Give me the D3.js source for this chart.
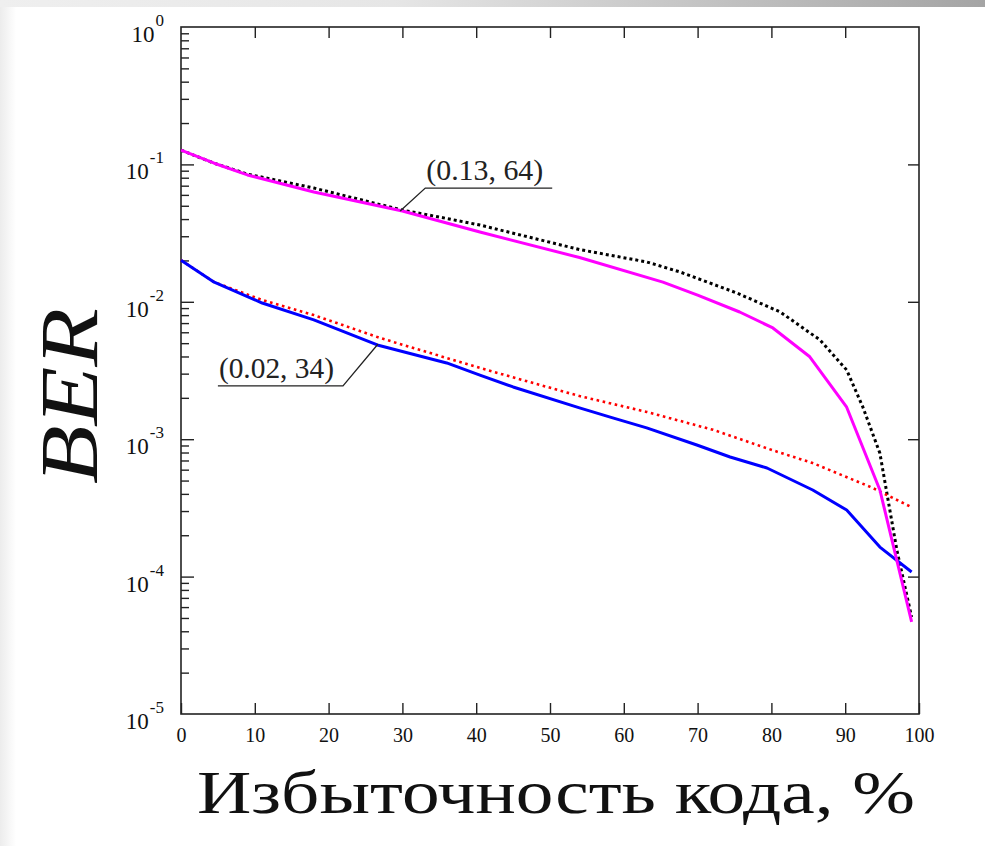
<!DOCTYPE html>
<html>
<head>
<meta charset="utf-8">
<script src="https://cdn.jsdelivr.net/npm/d3@7/dist/d3.min.js"></script>
<style>
  body { margin: 0; background: #fff; }
  svg { display: block; }
</style>
</head>
<body>
<script>
// Canvas setup
const canvasWidth = 985;
const canvasHeight = 846;

// Data (BER vs code redundancy, %)
const magentaX = [0, 4.5, 9, 18, 30, 40.5, 54, 65.3, 70, 75.7, 80.2, 85.2, 90.2, 94.7, 99];
const magentaY = [0.127, 0.102, 0.0838, 0.063, 0.0458, 0.0322, 0.021, 0.0139, 0.0112, 0.00843, 0.00645, 0.00398, 0.00171, 0.000427, 0.0000468];

const blackX = [0, 4.5, 9, 18, 30, 35, 40.5, 54, 63.1, 67.6, 75.3, 81.2, 86.6, 90.2, 92.4, 94.7, 97, 99];
const blackY = [0.127, 0.102, 0.085, 0.0673, 0.0465, 0.0414, 0.0362, 0.0240, 0.0195, 0.0165, 0.0116, 0.00843, 0.00527, 0.00319, 0.00171, 0.00079, 0.000156, 0.0000508];

const blueX = [0, 4.5, 11, 18, 26.6, 36, 40.5, 45, 54, 58.5, 63.1, 69.9, 74.4, 79.4, 85.6, 90.2, 94.7, 99];
const blueY = [0.0201, 0.0139, 0.0098, 0.00738, 0.00485, 0.00359, 0.00293, 0.0024, 0.00169, 0.00143, 0.00121, 0.000907, 0.000742, 0.000617, 0.000427, 0.000305, 0.000164, 0.000108];

const redX = [0, 4.5, 11, 18, 27, 40.5, 54, 63.1, 72.1, 80.2, 85.6, 93.4, 99];
const redY = [0.0201, 0.0139, 0.0103, 0.0080, 0.00545, 0.0033, 0.00206, 0.00158, 0.00117, 0.00083, 0.00067, 0.00045, 0.00032];

const xTicks = [0, 10, 20, 30, 40, 50, 60, 70, 80, 90, 100];
const yExponents = [0, -1, -2, -3, -4, -5];

// annotation leaders: [x%, BER] points
const note1Text = "(0.13, 64)";
const note1Line = [[29.7, 0.0458], [33.1, 0.0673], [50.3, 0.0673]];
const note2Text = "(0.02, 34)";
const note2Line = [[26.7, 0.00493], [21.95, 0.00244], [5.0, 0.00244]];

const svg = d3.select('body')
    .append('svg')
    .attr('width', canvasWidth)
    .attr('height', canvasHeight);

// page background bands
const defs = svg.append('defs');
const topGrad = defs.append('linearGradient').attr('id', 'topGrad');
topGrad.append('stop').attr('offset', '0%').attr('stop-color', '#efefef');
topGrad.append('stop').attr('offset', '40%').attr('stop-color', '#e6e6e6');
topGrad.append('stop').attr('offset', '100%').attr('stop-color', '#a4a4a4');
const leftGrad = defs.append('linearGradient').attr('id', 'leftGrad');
leftGrad.append('stop').attr('offset', '0%').attr('stop-color', '#ececec');
leftGrad.append('stop').attr('offset', '100%').attr('stop-color', '#ffffff');

svg.append('rect').attr('x', 0).attr('y', 0).attr('width', 16).attr('height', canvasHeight)
    .attr('fill', 'url(#leftGrad)');
svg.append('rect').attr('x', 0).attr('y', 0).attr('width', canvasWidth).attr('height', 7)
    .attr('fill', 'url(#topGrad)');

let margins = { top: 27, bottom: 132, left: 181, right: 66 };
let plotWidth = canvasWidth - margins.left - margins.right;
let plotHeight = canvasHeight - margins.top - margins.bottom;

let plotGroup = svg.append('g')
    .attr('transform', `translate(${margins.left},${margins.top})`);

let xScale = d3.scaleLinear().domain([0, 100]).range([0, plotWidth]);
let yScale = d3.scaleLog().domain([1e-5, 1]).range([plotHeight, 0]);

const serif = "'Liberation Serif', 'Times New Roman', serif";
const axisColor = '#222';

// frame
plotGroup.append('rect')
    .attr('width', plotWidth).attr('height', plotHeight)
    .attr('fill', 'none').attr('stroke', axisColor).attr('stroke-width', 1.6);

// x ticks, bottom and top (inward)
plotGroup.append('g')
    .attr('transform', `translate(0,${plotHeight})`)
    .call(d3.axisBottom(xScale).tickValues(xTicks).tickSizeInner(-11).tickSizeOuter(0).tickPadding(14))
    .call(g => g.select('.domain').remove())
    .call(g => g.selectAll('line').attr('stroke', axisColor).attr('stroke-width', 1.4))
    .call(g => g.selectAll('text').attr('font-family', serif).attr('font-size', 20).attr('fill', '#111'));

plotGroup.append('g')
    .call(d3.axisTop(xScale).tickValues(xTicks.slice(1, -1)).tickSizeInner(-11).tickSizeOuter(0).tickFormat(''))
    .call(g => g.select('.domain').remove())
    .call(g => g.selectAll('line').attr('stroke', axisColor).attr('stroke-width', 1.4));

// y ticks: majors and minors on the left, majors on the right
let minorVals = [];
yExponents.slice(1).forEach(e => {
    for (let m = 2; m <= 9; m++) minorVals.push(m * Math.pow(10, e));
});
let majorVals = yExponents.map(e => Math.pow(10, e));

plotGroup.append('g')
    .call(d3.axisRight(yScale).tickValues(minorVals).tickSizeInner(8).tickSizeOuter(0).tickFormat(''))
    .call(g => g.select('.domain').remove())
    .call(g => g.selectAll('line').attr('stroke', axisColor).attr('stroke-width', 1.4));

plotGroup.append('g')
    .call(d3.axisRight(yScale).tickValues(majorVals.slice(1, -1)).tickSizeInner(13).tickSizeOuter(0).tickFormat(''))
    .call(g => g.select('.domain').remove())
    .call(g => g.selectAll('line').attr('stroke', axisColor).attr('stroke-width', 1.4));

plotGroup.append('g')
    .attr('transform', `translate(${plotWidth},0)`)
    .call(d3.axisLeft(yScale).tickValues(majorVals.slice(1, -1)).tickSizeInner(11).tickSizeOuter(0).tickFormat(''))
    .call(g => g.select('.domain').remove())
    .call(g => g.selectAll('line').attr('stroke', axisColor).attr('stroke-width', 1.4));

// y tick labels as 10^e
let yLabels = plotGroup.append('g').selectAll('text').data(yExponents).enter()
    .append('text')
    .attr('x', -17)
    .attr('y', e => yScale(Math.pow(10, e)) + 15)
    .attr('text-anchor', 'end')
    .attr('font-family', serif)
    .attr('fill', '#111');
yLabels.append('tspan').attr('font-size', 23).text('10');
yLabels.append('tspan').attr('font-size', 17).attr('dy', -16).attr('dx', 1)
    .text(e => e === 0 ? '0' : '-' + Math.abs(e));

// curves
const line = d3.line()
    .x(d => xScale(d[0]))
    .y(d => yScale(d[1]));

const series = [
    { xs: blackX, ys: blackY, color: '#000000', width: 3, dash: '3,3' },
    { xs: redX, ys: redY, color: '#ff0000', width: 2.6, dash: '2.6,3.6' },
    { xs: blueX, ys: blueY, color: '#0000ff', width: 3, dash: null },
    { xs: magentaX, ys: magentaY, color: '#ff00ff', width: 3, dash: null }
];

plotGroup.append('g').selectAll('path').data(series).enter()
    .append('path')
    .attr('fill', 'none')
    .attr('stroke', d => d.color)
    .attr('stroke-width', d => d.width)
    .attr('stroke-dasharray', d => d.dash)
    .attr('stroke-linejoin', 'round')
    .attr('d', d => line(d.xs.map((x, i) => [x, d.ys[i]])));

// annotations
const leader = d3.line().x(d => xScale(d[0])).y(d => yScale(d[1]));
[[note1Line, note1Text, 1], [note2Line, note2Text, 2]].forEach(([pts, label, k]) => {
    plotGroup.append('path')
        .attr('d', leader(pts))
        .attr('fill', 'none')
        .attr('stroke', '#222')
        .attr('stroke-width', 1.3);
    let xs = pts.map(p => xScale(p[0]));
    let left = k === 1 ? xs[1] : xs[2];
    let right = k === 1 ? xs[2] : xs[1];
    plotGroup.append('text')
        .attr('x', left + 1)
        .attr('y', yScale(pts[1][1]) - 8)
        .attr('font-family', serif)
        .attr('font-size', 29)
        .attr('fill', '#222')
        .attr('textLength', right - left - 10)
        .attr('lengthAdjust', 'spacingAndGlyphs')
        .text(label);
});

// axis titles
svg.append('text')
    .attr('x', 197)
    .attr('y', 813)
    .attr('font-family', serif)
    .attr('font-size', 62)
    .attr('fill', '#111')
    .attr('textLength', 718)
    .attr('lengthAdjust', 'spacingAndGlyphs')
    .text('Избыточность кода, %');

svg.append('text')
    .attr('transform', 'translate(97,484) rotate(-90)')
    .attr('font-family', serif)
    .attr('font-style', 'italic')
    .attr('font-size', 82)
    .attr('fill', '#111')
    .attr('textLength', 176)
    .attr('lengthAdjust', 'spacingAndGlyphs')
    .text('BER');
</script>
</body>
</html>
